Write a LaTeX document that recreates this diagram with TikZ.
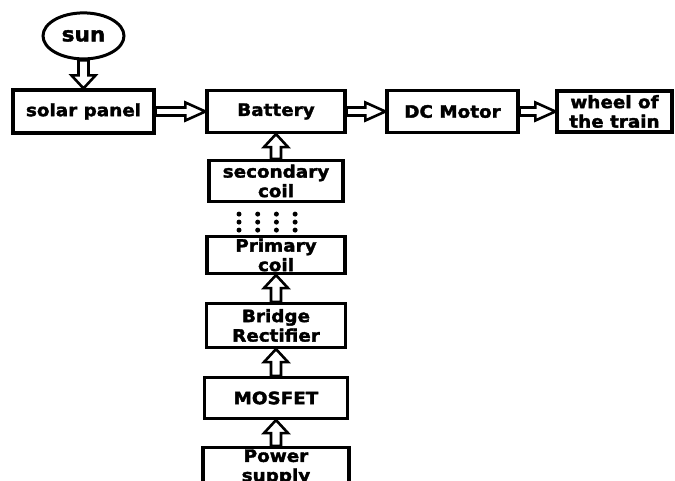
\documentclass[tikz,border=0pt]{standalone}
\usepackage{fontspec}
\setmainfont{DejaVu Sans}[FakeStretch=1.08, BoldFeatures={FakeBold=2}]
\usetikzlibrary{positioning, calc, shapes.geometric}

\begin{document}
\begin{tikzpicture}[x=1pt, y=-1pt,
    every node/.style={font=\bfseries\fontsize{17}{19.5}\selectfont}, % heavy sans labels
    block/.style={
        rectangle,
        draw=black,
        line width=3.2pt,
        align=center,
        inner sep=0pt,
        minimum width=#1,
        minimum height=42pt
    },
    block/.default=138pt,
    sunbox/.style={
        ellipse,
        draw=black,
        line width=3pt,
        inner sep=0pt,
        minimum width=81pt,
        minimum height=46pt,
        font=\bfseries\fontsize{20}{22}\selectfont
    },
    blockarrow/.style n args={3}{
        line width=2.6pt,
        line join=miter,
        to path={let \p1=($(\tikztotarget)!#3!(\tikztostart)$) in
            ($(\tikztostart)!#1!90:(\tikztotarget)$)
            -- ($(\p1)!#1!-90:(\tikztostart)$)
            -- ($(\p1)!#2!-90:(\tikztostart)$)
            -- (\tikztotarget)
            -- ($(\p1)!#2!90:(\tikztostart)$)
            -- ($(\p1)!#1!90:(\tikztostart)$)
            -- ($(\tikztostart)!#1!-90:(\tikztotarget)$)
            -- cycle}
    },
    sidearrow/.style={blockarrow={4pt}{9pt}{20pt}},
    liftarrow/.style={blockarrow={5pt}{12pt}{13pt}}
]
\path[use as bounding box, clip] (0,0) rectangle (675,481);

% Main row
\node[block=141pt, minimum height=43pt] (solar) at (83.5,111.5) {solar panel};
\node[sunbox, above=28pt of solar] (sun) {sun};
\node[block, right=49.8pt of solar] (battery) {Battery};
\node[block=131pt, right=38.8pt of battery] (motor) {DC Motor};
\node[block=115pt, minimum height=41pt, right=35.8pt of motor] (wheel) {wheel of\\the train};

% Charging chain below the battery
\node[block=134pt, minimum height=41pt, below=24.8pt of battery] (secondary) {secondary\\coil};
\node[block, minimum height=37pt, below=31.8pt of secondary] (primary) {Primary\\coil};
\node[block=139pt, minimum height=44pt, below=26.8pt of primary] (bridge) {Bridge\\Rectifier};
\node[block=143pt, minimum height=41pt, below=26.8pt of bridge] (mosfet) {MOSFET};
\node[block=146pt, minimum height=45pt, below=25.8pt of mosfet] (power)
    {\parbox[c][41pt][t]{140pt}{\centering Power\\supply}};

% Coupling dots between the coils
\foreach \dx in {0,...,3}
    \foreach \dy in {0,1,2}
        \fill ($(secondary.south)+(-37+18.7*\dx, 11+8*\dy)$) circle (2.5pt);

% Hollow arrows
\draw[liftarrow] (sun.south) to (solar.north);
\draw[sidearrow] (solar.east) to (battery.west);
\draw[sidearrow] (battery.east) to (motor.west);
\draw[sidearrow] (motor.east) to (wheel.west);
\draw[liftarrow] (secondary.north) to (battery.south);
\draw[liftarrow] (bridge.north) to (primary.south);
\draw[liftarrow] (mosfet.north) to (bridge.south);
\draw[liftarrow] (power.north) to (mosfet.south);

\end{tikzpicture}
\end{document}
